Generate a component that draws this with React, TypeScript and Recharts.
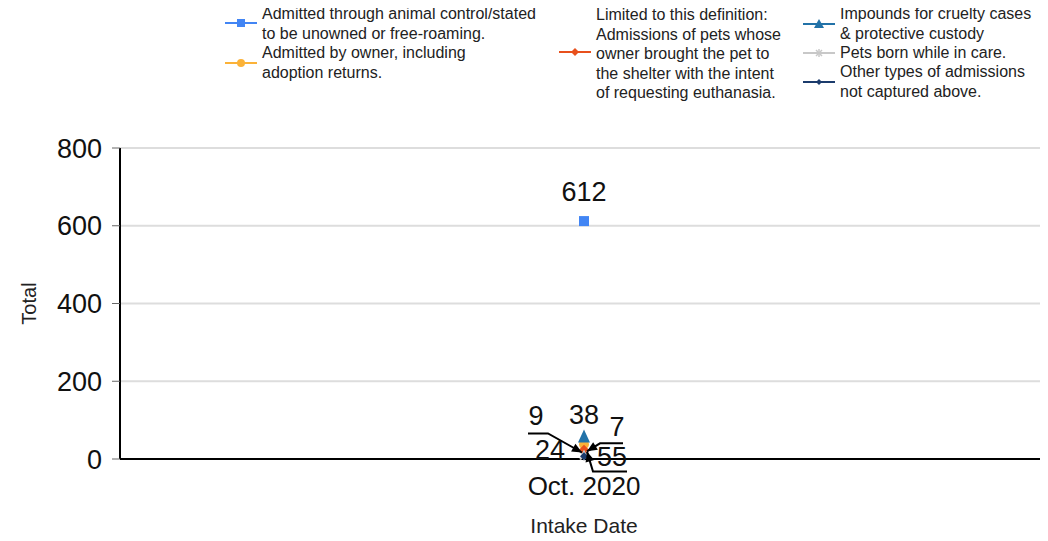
import React from 'react';
import { LineChart, Line, XAxis, YAxis, CartesianGrid, LabelList } from 'recharts';

const categories = ['Oct. 2020'];
const animalControl = [612];
const owner = [38];
const euthanasia = [24];
const impounds = [55];
const born = [9];
const other = [7];
const yTicks = [0, 200, 400, 600, 800];

const data = categories.map((c, i) => ({
  date: c,
  animalControl: animalControl[i],
  owner: owner[i],
  euthanasia: euthanasia[i],
  impounds: impounds[i],
  born: born[i],
  other: other[i],
}));

const FONT = '"Liberation Sans", Arial, sans-serif';

const C = {
  animalControl: '#4285f4',
  owner: '#fbb238',
  euthanasia: '#e8501c',
  impounds: '#2272a8',
  born: '#c8c8c8',
  other: '#1b3b6c',
};

const Square = (color: string) => (p: any) => (
  <rect key={p.key} x={p.cx - 5} y={p.cy - 5} width={10} height={10} fill={color} />
);
const Circle = (color: string) => (p: any) => (
  <circle key={p.key} cx={p.cx} cy={p.cy} r={5} fill={color} />
);
const Diamond = (color: string, s: number) => (p: any) => (
  <polygon key={p.key} points={`${p.cx},${p.cy - s} ${p.cx + s},${p.cy} ${p.cx},${p.cy + s} ${p.cx - s},${p.cy}`} fill={color} />
);
const Triangle = (color: string) => (p: any) => (
  <polygon key={p.key} points={`${p.cx},${p.cy - 8} ${p.cx + 6},${p.cy + 5} ${p.cx - 6},${p.cy + 5}`} fill={color} />
);
const Star = (color: string) => (p: any) => (
  <g key={p.key} stroke={color} strokeWidth={2}>
    <line x1={p.cx - 4} y1={p.cy - 4} x2={p.cx + 4} y2={p.cy + 4} />
    <line x1={p.cx - 4} y1={p.cy + 4} x2={p.cx + 4} y2={p.cy - 4} />
    <line x1={p.cx} y1={p.cy - 5} x2={p.cx} y2={p.cy + 5} />
  </g>
);

const arrowHead = (x1: number, y1: number, x2: number, y2: number) => {
  const dx = x2 - x1;
  const dy = y2 - y1;
  const len = Math.sqrt(dx * dx + dy * dy) || 1;
  const ux = dx / len;
  const uy = dy / len;
  const L = 10;
  const W = 4.5;
  const bx = x2 - ux * L;
  const by = y2 - uy * L;
  return `${x2},${y2} ${bx - uy * W},${by + ux * W} ${bx + uy * W},${by - ux * W}`;
};

const makeLabel = (dx: number, dy: number, leader?: number[][]) => (p: any) => {
  const { x, y, value } = p;
  const pts = leader ? leader.map(([a, b]) => [x + a, y + b]) : null;
  return (
    <g>
      {pts && (
        <>
          <polyline points={pts.map(([a, b]) => `${a},${b}`).join(' ')} fill="none" stroke="#000" strokeWidth={2} />
          <polygon
            points={arrowHead(pts[pts.length - 2][0], pts[pts.length - 2][1], pts[pts.length - 1][0], pts[pts.length - 1][1])}
            fill="#000"
          />
        </>
      )}
      <text x={x + dx} y={y + dy} textAnchor="middle" dominantBaseline="central" fontSize={27} fill="#111" fontFamily={FONT}>
        {value}
      </text>
    </g>
  );
};

const YLabel = (p: any) => {
  const vb = p.viewBox;
  const cx = 21;
  const cy = vb.y + vb.height / 2;
  return (
    <text x={cx} y={cy} transform={`rotate(-90 ${cx} ${cy})`} textAnchor="middle" dominantBaseline="central" fontSize={20} fill="#222" fontFamily={FONT}>
      Total
    </text>
  );
};

const legendItems = [
  { left: 217, textY: 14, iconY: 23, color: C.animalControl, icon: 'square', lines: ['Admitted through animal control/stated', 'to be unowned or free-roaming.'] },
  { left: 217, textY: 53, iconY: 63, color: C.owner, icon: 'circle', lines: ['Admitted by owner, including', 'adoption returns.'] },
  { left: 551, textY: 15, iconY: 52, color: C.euthanasia, icon: 'diamond', lines: ['Limited to this definition:', 'Admissions of pets whose', 'owner brought the pet to', 'the shelter with the intent', 'of requesting euthanasia.'] },
  { left: 795, textY: 14, iconY: 24, color: C.impounds, icon: 'triangle', lines: ['Impounds for cruelty cases', '& protective custody'] },
  { left: 795, textY: 53, iconY: 53, color: C.born, icon: 'star', lines: ['Pets born while in care.'] },
  { left: 795, textY: 72, iconY: 82, color: C.other, icon: 'diamondSmall', lines: ['Other types of admissions', 'not captured above.'] },
];

const LegendIcon = ({ color, icon }: { color: string; icon: string }) => (
  <svg width={32} height={12} style={{ display: 'block' }}>
    <line x1={0} y1={6} x2={32} y2={6} stroke={color} strokeWidth={2} />
    {icon === 'square' && <rect x={12} y={2} width={8} height={8} fill={color} />}
    {icon === 'circle' && <circle cx={16} cy={6} r={4} fill={color} />}
    {icon === 'diamond' && <polygon points="16,2 20,6 16,10 12,6" fill={color} />}
    {icon === 'diamondSmall' && <polygon points="16,3 19,6 16,9 13,6" fill={color} />}
    {icon === 'triangle' && <polygon points="16,1 21,10 11,10" fill={color} />}
    {icon === 'star' && (
      <g stroke={color} strokeWidth={1.5}>
        <line x1={13} y1={3} x2={19} y2={9} />
        <line x1={13} y1={9} x2={19} y2={3} />
        <line x1={16} y1={2} x2={16} y2={10} />
      </g>
    )}
  </svg>
);

const LH = 19.5;

export default function App() {
  return (
    <div style={{ position: 'relative', width: 1040, height: 533, fontFamily: FONT }}>
      {legendItems.map((it, i) => (
        <div key={i}>
          <div style={{ position: 'absolute', left: it.left, top: it.iconY - 8 - 6 }}>
            <LegendIcon color={it.color} icon={it.icon} />
          </div>
          <div style={{ position: 'absolute', left: it.left + 37, top: it.textY - 8 - LH / 2, fontSize: 16, lineHeight: `${LH}px`, color: '#222', whiteSpace: 'nowrap' }}>
            {it.lines.map((l, j) => (
              <div key={j}>{l}</div>
            ))}
          </div>
        </div>
      ))}
      <div style={{ position: 'absolute', left: 0, top: 0 }}>
        <LineChart width={1040} height={533} data={data} margin={{ top: 140, right: 0, left: 0, bottom: 2 }}>
          <CartesianGrid vertical={false} stroke="#dddddd" strokeWidth={2} />
          <XAxis
            dataKey="date"
            tickLine={false}
            tickSize={8}
            tickMargin={10}
            height={80}
            axisLine={{ stroke: '#000', strokeWidth: 2 }}
            tick={{ fontSize: 26, fill: '#111', fontFamily: FONT }}
            label={{ value: 'Intake Date', position: 'insideBottom', offset: 6, fontSize: 21, fill: '#222', fontFamily: FONT }}
          />
          <YAxis
            domain={[0, 800]}
            ticks={yTicks}
            width={112}
            tickSize={8}
            tickMargin={10}
            tickLine={{ stroke: '#666' }}
            axisLine={{ stroke: '#000', strokeWidth: 2 }}
            tick={{ fontSize: 27, fill: '#111', fontFamily: FONT }}
            label={<YLabel />}
          />
          <Line dataKey="animalControl" stroke={C.animalControl} isAnimationActive={false} dot={Square(C.animalControl)}>
            <LabelList dataKey="animalControl" content={makeLabel(0, -29)} />
          </Line>
          <Line dataKey="owner" stroke={C.owner} isAnimationActive={false} dot={Circle(C.owner)}>
            <LabelList dataKey="owner" content={makeLabel(0, -29)} />
          </Line>
          <Line dataKey="euthanasia" stroke={C.euthanasia} isAnimationActive={false} dot={Diamond(C.euthanasia, 5)}>
            <LabelList dataKey="euthanasia" content={makeLabel(-34, 0)} />
          </Line>
          <Line dataKey="impounds" stroke={C.impounds} isAnimationActive={false} dot={Triangle(C.impounds)}>
            <LabelList dataKey="impounds" content={makeLabel(28, 19, [[43, 34], [9, 34], [3, 14]])} />
          </Line>
          <Line dataKey="born" stroke={C.born} isAnimationActive={false} dot={Star(C.born)}>
            <LabelList dataKey="born" content={makeLabel(-48, -40, [[-56, -22], [-36, -22], [-2, -3]])} />
          </Line>
          <Line dataKey="other" stroke={C.other} isAnimationActive={false} dot={Diamond(C.other, 4)}>
            <LabelList dataKey="other" content={makeLabel(33, -29, [[39, -13], [16, -13], [3, -5]])} />
          </Line>
        </LineChart>
      </div>
    </div>
  );
}
